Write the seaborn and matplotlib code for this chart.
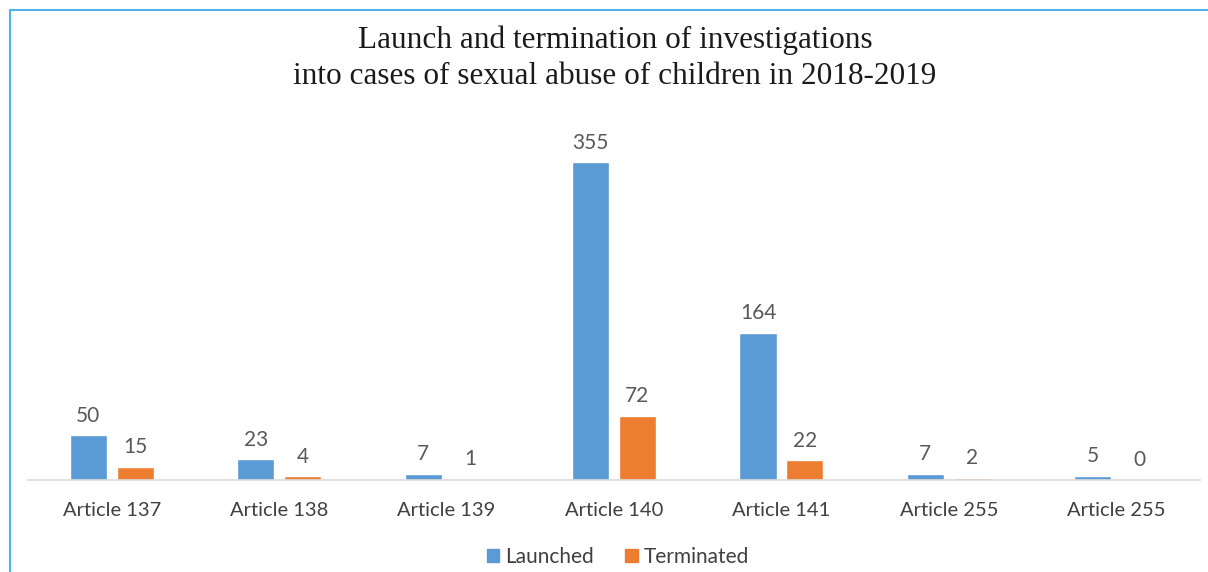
import matplotlib
matplotlib.use("Agg")
import matplotlib.pyplot as plt
from matplotlib.lines import Line2D
import seaborn as sns
import pandas as pd

articles = ["Article 137", "Article 138", "Article 139", "Article 140",
            "Article 141", "Article 255", "Article 255 "]
launched = [50, 23, 7, 355, 164, 7, 5]
terminated = [15, 4, 1, 72, 22, 2, 0]
series = ["Launched", "Terminated"]
colors = ["#5B9BD5", "#ED7D31"]

df = pd.DataFrame({
    "article": articles * 2,
    "count": launched + terminated,
    "series": [series[0]] * len(articles) + [series[1]] * len(articles),
})

sns.set_style("white")
plt.rcParams["font.family"] = ["Lato", "DejaVu Sans"]

W, H = 1208, 572
fig = plt.figure(figsize=(W / 100, H / 100), dpi=100)
ax = fig.add_axes([28 / W, 1 - 480 / H, (1200 - 28) / W, (480 - 122) / H])

sns.barplot(data=df, x="article", y="count", hue="series", palette=colors,
            width=0.56, gap=0.21, ax=ax, legend=False, saturation=1)

for cont in ax.containers:
    labels = [f"{int(b.get_height())}" for b in cont]
    ax.bar_label(cont, labels=labels, padding=7, fontsize=15, color="#595959")

ax.set_ylim(0, 400)
ax.set_xlim(-0.5, len(articles) - 0.5)
ax.set_xlabel("")
ax.set_ylabel("")
ax.set_yticks([])
ax.tick_params(axis="x", length=0, pad=16, labelsize=14.5, labelcolor="#404040")
ax.set_xticks(range(len(articles)))
ax.set_xticklabels([a.strip() for a in articles])
for s in ["top", "right", "left"]:
    ax.spines[s].set_visible(False)
ax.spines["bottom"].set_color("#D9D9D9")
ax.spines["bottom"].set_linewidth(1.2)

fig.text(615 / W, 1 - 40 / H, "Launch and termination of investigations",
         ha="center", va="center", fontsize=22.5, family="Liberation Serif",
         color="#1a1a1a")
fig.text(615 / W, 1 - 76 / H, "into cases of sexual abuse of children in 2018-2019",
         ha="center", va="center", fontsize=22.5, family="Liberation Serif",
         color="#1a1a1a")

# Frame lines along the top and left edges
fig.add_artist(Line2D([10 / W, 1], [1 - 10 / H, 1 - 10 / H], color="#4FB3E8", lw=1.5))
fig.add_artist(Line2D([10 / W, 10 / W], [0, 1 - 10 / H], color="#4FB3E8", lw=1.5))

handles = [plt.Rectangle((0, 0), 1, 1, color=c) for c in colors]
fig.legend(handles, series, loc="center", bbox_to_anchor=(618 / W, 1 - 557 / H),
           ncol=2, frameon=False, fontsize=15, handlelength=0.6, handleheight=0.6,
           handletextpad=0.3, columnspacing=1.5, labelcolor="#404040")

fig.savefig("out.png", dpi=100)
